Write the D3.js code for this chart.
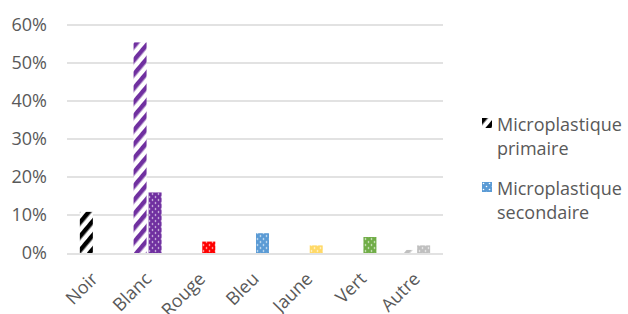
<!DOCTYPE html>
<html>
<head>
<meta charset="utf-8">
<script src="https://cdn.jsdelivr.net/npm/d3@7"></script>
<style>
  body { margin: 0; background: #fff; }
  text { font-family: "Open Sans", "Noto Sans", sans-serif; fill: #595959; }
</style>
</head>
<body>
<svg id="chart" width="628" height="314"></svg>
<script>
// data
let categories = ['Noir', 'Blanc', 'Rouge', 'Bleu', 'Jaune', 'Vert', 'Autre'];
let primaire = [0.108, 0.553, 0, 0, 0, 0, 0.008];
let secondaire = [0, 0.159, 0.03, 0.052, 0.02, 0.042, 0.02];
let catColors = ['#000000', '#7030A0', '#FF0000', '#5B9BD5', '#FFD966', '#70AD47', '#BFBFBF'];
let yTicks = [0, 0.1, 0.2, 0.3, 0.4, 0.5, 0.6];
let seriesNames = [['Microplastique', 'primaire'], ['Microplastique', 'secondaire']];

let svg = d3.select('#chart');
let pad = {t: 24.5, l: 67, r: 185, b: 61};
let chartW = 628 - pad.l - pad.r;
let chartH = 314 - pad.t - pad.b;

let xScale = d3.scaleBand().domain(categories).range([0, chartW]);
let yScale = d3.scaleLinear().domain([0, 0.6]).range([chartH, 0]);

// patterns: stripes for primary, dots for secondary
let defs = svg.append('defs');
catColors.forEach((c, i) => {
    let st = defs.append('pattern')
        .attr('id', 'stripe' + i)
        .attr('patternUnits', 'userSpaceOnUse')
        .attr('width', 9).attr('height', 9)
        .attr('patternTransform', 'rotate(40)');
    st.append('rect').attr('width', 9).attr('height', 9).attr('fill', '#fff');
    st.append('rect').attr('width', 4.5).attr('height', 9).attr('fill', c);

    let dt = defs.append('pattern')
        .attr('id', 'dots' + i)
        .attr('patternUnits', 'userSpaceOnUse')
        .attr('width', 6).attr('height', 6);
    dt.append('rect').attr('width', 6).attr('height', 6).attr('fill', c);
    dt.append('circle').attr('cx', 1.5).attr('cy', 1.5).attr('r', 0.8).attr('fill', '#fff');
    dt.append('circle').attr('cx', 4.5).attr('cy', 4.5).attr('r', 0.8).attr('fill', '#fff');
});

let g = svg.append('g').attr('transform', `translate(${pad.l},${pad.t})`);

// grid
g.selectAll('.grid').data(yTicks).enter().append('line')
    .attr('class', 'grid')
    .attr('x1', 0).attr('x2', chartW)
    .attr('y1', d => Math.round(yScale(d)) + 0.5)
    .attr('y2', d => Math.round(yScale(d)) + 0.5)
    .attr('stroke', '#D9D9D9')
    .attr('stroke-width', 1.3);

// y axis labels
let yAxis = d3.axisLeft(yScale).tickValues(yTicks).tickFormat(d3.format('.0%')).tickSize(0).tickPadding(20);
let yG = g.append('g').call(yAxis);
yG.select('.domain').remove();
yG.selectAll('text').style('font-size', '18px').attr('fill', '#595959');

// x axis labels
let xAxis = d3.axisBottom(xScale).tickSize(0).tickPadding(0);
let xG = g.append('g').attr('transform', `translate(0,${chartH})`).call(xAxis);
xG.select('.domain').remove();
xG.selectAll('text')
    .style('font-size', '18px')
    .attr('fill', '#595959')
    .attr('text-anchor', 'end')
    .attr('dy', 0)
    .attr('transform', 'translate(5,27) rotate(-45)');

let barW = 13;
// primary bars
g.selectAll('.prim').data(primaire).enter().append('rect')
    .attr('class', 'prim')
    .attr('x', (d, i) => xScale(categories[i]) + xScale.bandwidth() / 2 - barW - 1)
    .attr('y', d => yScale(d))
    .attr('width', barW)
    .attr('height', d => chartH - yScale(d))
    .attr('fill', (d, i) => `url(#stripe${i})`);

// secondary bars
g.selectAll('.sec').data(secondaire).enter().append('rect')
    .attr('class', 'sec')
    .attr('x', (d, i) => xScale(categories[i]) + xScale.bandwidth() / 2 + 1)
    .attr('y', d => yScale(d))
    .attr('width', barW)
    .attr('height', d => chartH - yScale(d))
    .attr('fill', (d, i) => `url(#dots${i})`);

// legend
let legend = svg.append('g').attr('transform', 'translate(482,118)');
let legendFills = ['url(#stripe0)', 'url(#dots3)'];
seriesNames.forEach((names, i) => {
    let item = legend.append('g').attr('transform', `translate(0,${i * 64})`);
    item.append('rect')
        .attr('width', 10).attr('height', 10)
        .attr('fill', legendFills[i]);
    item.append('text')
        .attr('x', 15).attr('y', 13)
        .style('font-size', '18px')
        .text(names[0]);
    item.append('text')
        .attr('x', 15).attr('y', 37)
        .style('font-size', '18px')
        .text(names[1]);
});
</script>
</body>
</html>
